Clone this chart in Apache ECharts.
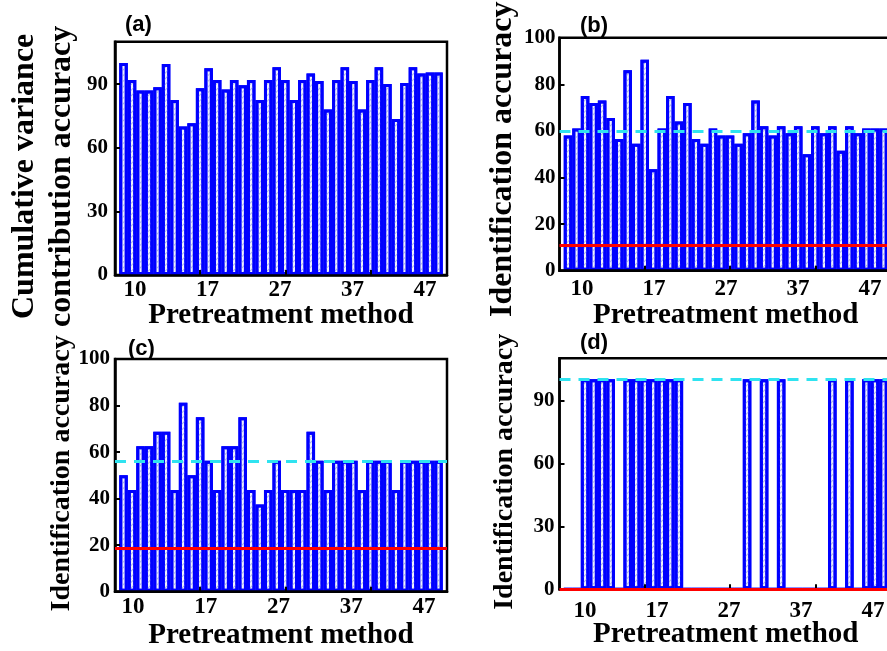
<!DOCTYPE html>
<html>
<head>
<meta charset="utf-8">
<script src="https://cdn.jsdelivr.net/npm/echarts@6/dist/echarts.min.js"></script>
<style>
  html, body { margin: 0; padding: 0; background: #fff; }
  #chart { width: 887px; height: 651px; }
</style>
</head>
<body>
<div id="chart"></div>
<script>
// Pretreatment method number of every bar
const methods = [8, 9, 10, 11, 12, 13, 14, 15, 16, 17, 18, 19, 20, 21, 22, 23, 24, 25, 26,
  27, 28, 29, 30, 31, 32, 33, 34, 35, 36, 37, 38, 39, 40, 41, 42, 43, 44, 45];

// Axis tick marks and the tick texts under each panel
const tickMarks = [17, 27, 37];
const tickLabels = ['10', '17', '27', '37', '47'];

// (a) cumulative variance contribution accuracy
const cumulativeVariance = [100, 92, 87, 87, 88.5, 99.5, 82.5, 70, 71.5, 88, 97.5, 92, 87.5, 92,
  89.5, 92, 82.5, 92, 98, 92, 82.5, 92, 95, 91.5, 78, 92, 98, 91.5, 78, 92, 98, 90, 73.5, 90.5,
  98, 95, 95.5, 95.5];

// (b) identification accuracy
const accuracyB = [58, 61, 75, 72, 73, 65.5, 56.5, 86, 54.5, 90.5, 43.5, 61, 75, 64, 72, 56.5,
  54.5, 61, 58, 58, 54.5, 59, 73, 62, 58, 62, 59, 62, 50, 62, 59, 62, 51.5, 62, 59, 61, 61, 61];

// (c) identification accuracy
const accuracyC = [50, 43.75, 62.5, 62.5, 68.75, 68.75, 43.75, 81.25, 50, 75, 56.25, 43.75, 62.5,
  62.5, 75, 43.75, 37.5, 43.75, 56.25, 43.75, 43.75, 43.75, 68.75, 56.25, 43.75, 56.25, 56.25,
  56.25, 43.75, 56.25, 56.25, 56.25, 43.75, 56.25, 56.25, 56.25, 56.25, 56.25];

// (d) identification accuracy
const accuracyD = [0, 0, 100, 100, 100, 100, 0, 100, 100, 100, 100, 100, 100, 100, 0, 0, 0, 0, 0,
  0, 0, 100, 0, 100, 0, 100, 0, 0, 0, 0, 0, 100, 0, 100, 0, 100, 100, 100];

// Reference levels: [random-guess level, reference accuracy]
const levelsB = [11, 60];
const levelsC = [18.75, 56.25];
const levelsD = [0, 100];

const SERIF = "'Liberation Serif', 'Times New Roman', serif";
const SANS = "'Liberation Sans', Arial, sans-serif";
const W = 887;

const panels = [
  { tag: '(a)', tagPos: [120, 9], values: cumulativeVariance, levels: null,
    grid: { left: 115, right: 440, top: 41.7, bottom: 376 },
    yMax: 110, yStep: 30, yLabelMargin: 7,
    yName: 'Cumulative variance\ncontribution accuracy', yFont: 32, yLine: 37, yGap: 35, yShift: 18,
    xGap: 26, labelSpan: [135, 425], labelMargin: 4 },
  { tag: '(b)', tagPos: [575, 10], values: accuracyB, levels: levelsB,
    grid: { left: 559.5, right: -5, top: 37.7, bottom: 380.3 },
    yMax: 100, yStep: 20, yLabelMargin: 4,
    yName: 'Identification accuracy', yFont: 32, yLine: 37, yGap: 38, yShift: 5,
    xGap: 30, labelSpan: [582, 870], labelMargin: 7 },
  { tag: '(c)', tagPos: [123, 333], values: accuracyC, levels: levelsC,
    grid: { left: 115, right: 440, top: 359, bottom: 59.3 },
    yMax: 100, yStep: 20, yLabelMargin: 5,
    yName: 'Identification accuracy', yFont: 28, yLine: 32, yGap: 37, yShift: -2,
    xGap: 29, labelSpan: [133, 424], labelMargin: 4 },
  { tag: '(d)', tagPos: [575, 327], values: accuracyD, levels: levelsD,
    grid: { left: 559.5, right: -5, top: 358.3, bottom: 61.7 },
    yMax: 110, yStep: 30, yLabelMargin: 5,
    yName: 'Identification accuracy', yFont: 28, yLine: 32, yGap: 38.5, yShift: -2,
    xGap: 31, labelSpan: [585, 873], labelMargin: 10 }
];

const grids = [], xAxes = [], yAxes = [], series = [], titles = [];

panels.forEach((p, i) => {
  const main = 2 * i, lab = 2 * i + 1;

  grids.push(Object.assign({ show: true, borderColor: '#000', borderWidth: 2.5,
    backgroundColor: 'transparent', outerBoundsMode: 'none', containLabel: false }, p.grid));
  // strip that carries the tick texts below the panel
  grids.push({ left: p.labelSpan[0], right: W - p.labelSpan[1],
    top: p.grid.top, bottom: p.grid.bottom, show: false,
    outerBoundsMode: 'none', containLabel: false });

  xAxes.push({
    type: 'value', gridIndex: main, min: 7, max: 46, z: 4,
    axisLine: { show: true, onZero: false, lineStyle: { color: '#000', width: 2.5 } },
    axisTick: { show: true, inside: true, length: 5, customValues: tickMarks,
      lineStyle: { color: '#000', width: 2 } },
    axisLabel: { show: false },
    splitLine: { show: false },
    name: 'Pretreatment method', nameLocation: 'middle', nameGap: p.xGap, nameMoveOverlap: false,
    nameTextStyle: { fontFamily: SERIF, fontWeight: 'bold', fontSize: 29, color: '#000' }
  });
  xAxes.push({
    type: 'category', gridIndex: lab, data: tickLabels, boundaryGap: false,
    axisLine: { show: false }, axisTick: { show: false }, splitLine: { show: false },
    axisLabel: { margin: p.labelMargin, fontFamily: SERIF, fontWeight: 'bold', fontSize: 23,
      color: '#000', interval: 0 }
  });

  // a positive shift moves the rotated axis name downwards
  const pad = p.yShift >= 0 ? [0, 2 * p.yShift, 0, 0] : [0, 0, 0, -2 * p.yShift];
  yAxes.push({
    type: 'value', gridIndex: main, min: 0, max: p.yMax, interval: p.yStep, z: 4,
    axisLine: { show: true, lineStyle: { color: '#000', width: 2.5 } },
    axisTick: { show: true, inside: true, length: 5, lineStyle: { color: '#000', width: 2 } },
    axisLabel: { margin: p.yLabelMargin, fontFamily: SERIF, fontWeight: 'bold', fontSize: 21,
      color: '#000', showMaxLabel: p.yMax % p.yStep === 0 },
    splitLine: { show: false },
    name: p.yName, nameLocation: 'middle', nameGap: p.yGap, nameMoveOverlap: false,
    nameTextStyle: { fontFamily: SERIF, fontWeight: 'bold', fontSize: p.yFont, color: '#000',
      lineHeight: p.yLine, padding: pad }
  });
  yAxes.push({ type: 'value', gridIndex: lab, min: 0, max: 1, show: false });

  const markData = [];
  if (p.levels) {
    markData.push({ yAxis: p.levels[0], lineStyle: { color: '#FF0000', width: 3, type: 'solid' } });
    markData.push({ yAxis: p.levels[1], lineStyle: { color: '#2FE3F0', width: 3, type: [11, 8] } });
  }

  series.push({
    type: 'bar', xAxisIndex: main, yAxisIndex: main,
    data: methods.map((m, k) => [m, p.values[k]]),
    barWidth: '100%',
    itemStyle: {
      color: '#EEF0FD', borderColor: '#0000FF', borderWidth: 3,
      decal: { symbol: 'rect', symbolSize: 1, dashArrayX: [1, 0], dashArrayY: [1, 3],
        rotation: -Math.PI / 4, color: '#A9B2EA' }
    },
    markLine: markData.length ? { silent: true, symbol: ['none', 'none'], label: { show: false },
      animation: false, data: markData } : undefined
  });

  titles.push({ text: p.tag, left: p.tagPos[0], top: p.tagPos[1],
    textStyle: { fontFamily: SANS, fontWeight: 'bold', fontSize: 22, color: '#000' } });
});

const chart = echarts.init(document.getElementById('chart'), null, { renderer: 'canvas' });
chart.setOption({
  animation: false,
  backgroundColor: '#fff',
  title: titles,
  grid: grids,
  xAxis: xAxes,
  yAxis: yAxes,
  series: series
});
</script>
</body>
</html>
